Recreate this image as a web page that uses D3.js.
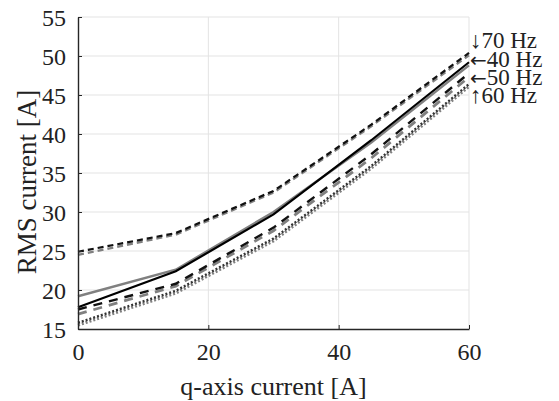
<!DOCTYPE html>
<html>
<head>
<meta charset="utf-8">
<script src="https://cdn.jsdelivr.net/npm/d3@7"></script>
<style>
  body { margin: 0; background: #fff; }
  text { font-family: "Liberation Serif", "Times New Roman", serif; }
</style>
</head>
<body>
<svg id="chart" width="559" height="401"></svg>
<script>
// q-axis current samples
const qCurrent = [0, 15, 30, 45, 60];

// RMS current per frequency, two curves each (black / gray)
const hz70Black = [24.9, 27.3, 32.7, 41.2, 50.4];
const hz70Gray  = [24.5, 27.1, 32.5, 41.0, 50.1];
const hz40Black = [17.8, 22.4, 29.7, 39.2, 49.2];
const hz40Gray  = [19.2, 22.6, 30.0, 38.9, 48.8];
const hz50Black = [17.5, 20.8, 28.0, 37.4, 47.8];
const hz50Gray  = [16.9, 20.5, 27.6, 36.9, 47.3];
const hz60Black = [15.8, 19.9, 26.6, 35.9, 46.4];
const hz60Gray  = [15.5, 19.6, 26.3, 35.6, 46.1];

const xTicks = [0, 20, 40, 60];
const yTicks = [15, 20, 25, 30, 35, 40, 45, 50, 55];

const labelArrows = ["\u2193", "\u2190", "\u2190", "\u2191"];
const labelTexts = ["70 Hz", "40 Hz", "50 Hz", "60 Hz"];

const series = [
  { values: hz70Gray,  color: "#808080", dash: "6,4", width: 2.4 },
  { values: hz70Black, color: "#111",    dash: "6,4", width: 2.2 },
  { values: hz40Gray,  color: "#808080", dash: null,  width: 2.4 },
  { values: hz40Black, color: "#000",    dash: null,  width: 2.2 },
  { values: hz50Gray,  color: "#808080", dash: "9,7", width: 2.8 },
  { values: hz50Black, color: "#111",    dash: "9,7", width: 2.4 },
  { values: hz60Gray,  color: "#808080", dash: "2,2", width: 3 },
  { values: hz60Black, color: "#333",    dash: "2,2", width: 2.4 }
];

const svg = d3.select("#chart");

const x = d3.scaleLinear().domain([0, 60]).range([78, 469]);
const y = d3.scaleLinear().domain([15, 55]).range([329, 17]);

// grid
svg.append("g")
  .selectAll("line")
  .data(xTicks.slice(1))
  .join("line")
  .attr("x1", d => x(d)).attr("x2", d => x(d))
  .attr("y1", y(15)).attr("y2", y(55))
  .attr("stroke", "#e3e3e3").attr("stroke-width", 1);

svg.append("g")
  .selectAll("line")
  .data(yTicks.slice(1))
  .join("line")
  .attr("x1", x(0)).attr("x2", x(60))
  .attr("y1", d => y(d)).attr("y2", d => y(d))
  .attr("stroke", "#e3e3e3").attr("stroke-width", 1);

// lines
const line = d3.line()
  .x((d, i) => x(qCurrent[i]))
  .y(d => y(d));

svg.append("g")
  .selectAll("path")
  .data(series)
  .join("path")
  .attr("d", d => line(d.values))
  .attr("fill", "none")
  .attr("stroke", d => d.color)
  .attr("stroke-width", d => d.width)
  .attr("stroke-dasharray", d => d.dash);

// axes
const xAxis = svg.append("g")
  .attr("transform", `translate(0,${y(15)})`)
  .call(d3.axisBottom(x).tickValues(xTicks).tickSizeInner(-4).tickSizeOuter(0).tickPadding(14));

const yAxis = svg.append("g")
  .attr("transform", `translate(${x(0)},0)`)
  .call(d3.axisLeft(y).tickValues(yTicks).tickSizeInner(-4).tickSizeOuter(0).tickPadding(12));

[xAxis, yAxis].forEach(g => {
  g.select(".domain").attr("stroke", "#262626").attr("stroke-width", 1.4);
  g.selectAll(".tick line").attr("stroke", "#262626");
  g.selectAll(".tick text")
    .attr("fill", "#222")
    .style("font-family", "'Liberation Serif', serif")
    .style("font-size", "24px");
});
xAxis.selectAll(".tick text").attr("dy", "0.71em");
yAxis.selectAll(".tick text").attr("dy", "0.35em");

// axis labels
svg.append("text")
  .attr("x", (x(0) + x(60)) / 2)
  .attr("y", 395)
  .attr("text-anchor", "middle")
  .attr("fill", "#222")
  .style("font-size", "26px")
  .text("q-axis current [A]");

svg.append("text")
  .attr("transform", "translate(36,182) rotate(-90)")
  .attr("text-anchor", "middle")
  .attr("fill", "#222")
  .style("font-size", "27px")
  .text("RMS current [A]");

// frequency annotations
const labelY = [48, 67, 85, 103];
const ann = svg.append("g")
  .selectAll("text")
  .data(labelTexts)
  .join("text")
  .attr("x", 470)
  .attr("y", (d, i) => labelY[i])
  .attr("fill", "#222")
  .style("font-size", "23px");

ann.append("tspan")
  .style("font-family", (d, i) => labelArrows[i] === "\u2190" ? "'DejaVu Sans', sans-serif" : null)
  .style("font-size", (d, i) => labelArrows[i] === "\u2190" ? "20px" : null)
  .text((d, i) => labelArrows[i]);

ann.append("tspan")
  .text(d => d);
</script>
</body>
</html>
